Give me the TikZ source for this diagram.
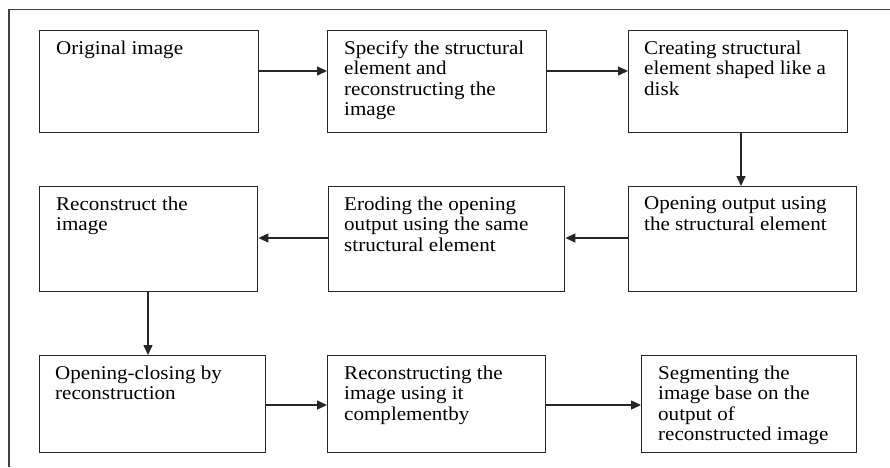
\documentclass[tikz,border=0pt]{standalone}
\usepackage{fontspec}
\setmainfont[FakeStretch=1.08]{Liberation Serif}
\usetikzlibrary{arrows.meta}
\begin{document}
\begin{tikzpicture}[x=1pt,y=-1pt,
  stepbox/.style={draw=black!85,line width=1.4pt,inner sep=0pt},
  steptext/.style={anchor=north west,inner sep=0pt,align=left,
    font=\fontsize{19.5}{20.5}\selectfont},
  flow/.style={draw=black!85,line width=1.4pt,-{Triangle[length=10pt,width=9pt]}},
  frameline/.style={draw=black!75,line width=1.5pt}]
\useasboundingbox (0,0) rectangle (890,467);
% open frame along the top and left edges
\coordinate (ftr) at (890,9.5);
\coordinate (ftl) at (9,9.5);
\coordinate (fbl) at (9,467);
\draw[frameline] (ftr) -- (ftl) -- (fbl);
% boxes: corners given as (left,top) and (right,bottom)
\newcommand{\flowbox}[5]{%
  \node[stepbox,minimum width=#4-#2,minimum height=#5-#3,anchor=north west]
    (#1) at (#2,#3) {};}
\flowbox{b1}{39}{30}{258}{132}
\flowbox{b2}{327}{30}{546}{132}
\flowbox{b3}{628}{30}{847}{132}
\flowbox{b4}{39}{186}{257}{291}
\flowbox{b5}{328}{186}{564}{291}
\flowbox{b6}{628}{186}{856}{291}
\flowbox{b7}{39}{355}{265}{452}
\flowbox{b8}{327}{355}{545}{452}
\flowbox{b9}{641}{355}{856}{452}
% texts
\node[steptext] (t1) at ([shift={(17,10.5)}]b1.north west) {Original image};
\node[steptext] (t2) at ([shift={(17,10.5)}]b2.north west) {Specify the structural\\element and\\reconstructing the\\image};
\node[steptext] (t3) at ([shift={(16,10.5)}]b3.north west) {Creating structural\\element shaped like a\\disk};
\node[steptext] (t4) at ([shift={(17,10.5)}]b4.north west) {Reconstruct the\\image};
\node[steptext] (t5) at ([shift={(16,10.5)}]b5.north west) {Eroding the opening\\output using the same\\structural element};
\node[steptext] (t6) at ([shift={(16,10.5)}]b6.north west) {Opening output using\\the structural element};
\node[steptext] (t7) at ([shift={(16,10.5)}]b7.north west) {Opening-closing by\\reconstruction};
\node[steptext] (t8) at ([shift={(17,10.5)}]b8.north west) {Reconstructing the\\image using it\\complementby};
\node[steptext] (t9) at ([shift={(17,10.5)}]b9.north west) {Segmenting the\\image base on the\\output of\\reconstructed image};
% connectors
\draw[flow] (b1.east |- 0,71) -- (b2.west |- 0,71);
\draw[flow] (b2.east |- 0,71) -- (b3.west |- 0,71);
\draw[flow] (741,132) coordinate (a3) (a3 |- b3.south) -- (a3 |- b6.north);
\draw[flow] (b6.west |- 0,238) -- (b5.east |- 0,238);
\draw[flow] (b5.west |- 0,238) -- (b4.east |- 0,238);
\draw[flow] (148,291) coordinate (a4) (a4 |- b4.south) -- (a4 |- b7.north);
\draw[flow] (b7.east |- 0,405) -- (b8.west |- 0,405);
\draw[flow] (b8.east |- 0,405) -- (b9.west |- 0,405);
\end{tikzpicture}
\end{document}
